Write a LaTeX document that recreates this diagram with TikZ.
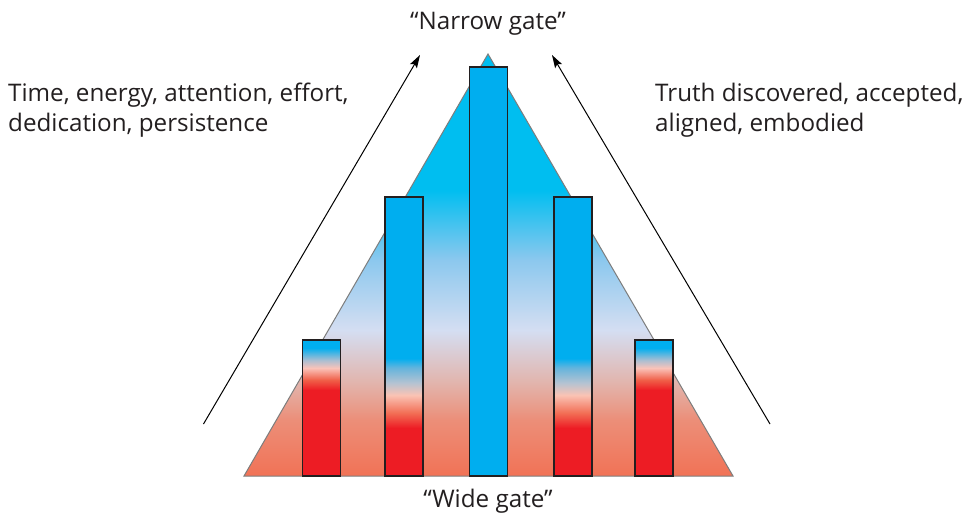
\documentclass[tikz,border=0pt]{standalone}
\usepackage{fontspec}
\setmainfont{Open Sans}
\usetikzlibrary{arrows.meta}
\definecolor{barblue}{RGB}{0,174,239}
\definecolor{barred}{RGB}{237,28,36}
\definecolor{outl}{RGB}{35,31,32}
\definecolor{triedge}{RGB}{125,125,125}
\definecolor{txt}{RGB}{35,31,32}
\pgfdeclareverticalshading{trishade}{100bp}{
  color(0bp)=(rgb,255:red,241;green,114;blue,86);
  color(25bp)=(rgb,255:red,241;green,114;blue,86);
  color(31.6bp)=(rgb,255:red,236;green,142;blue,120);
  color(36bp)=(rgb,255:red,226;green,180;blue,172);
  color(42.3bp)=(rgb,255:red,212;green,222;blue,242);
  color(50.6bp)=(rgb,255:red,140;green,200;blue,238);
  color(58.9bp)=(rgb,255:red,0;green,190;blue,240);
  color(75bp)=(rgb,255:red,0;green,190;blue,240);
  color(100bp)=(rgb,255:red,0;green,190;blue,240)}
\pgfdeclareverticalshading{shortbar}{100bp}{
  color(0bp)=(barred);
  color(25bp)=(barred);
  color(56.6bp)=(barred);
  color(60.3bp)=(rgb,255:red,240;green,95;blue,72);
  color(64.7bp)=(rgb,255:red,250;green,195;blue,185);
  color(67.6bp)=(rgb,255:red,170;green,190;blue,210);
  color(72.1bp)=(barblue);
  color(75bp)=(barblue);
  color(100bp)=(barblue)}
\pgfdeclareverticalshading{midbar}{100bp}{
  color(0bp)=(barred);
  color(25bp)=(barred);
  color(33.6bp)=(barred);
  color(36.3bp)=(rgb,255:red,242;green,110;blue,85);
  color(39.5bp)=(rgb,255:red,250;green,195;blue,180);
  color(41.7bp)=(rgb,255:red,180;green,195;blue,210);
  color(44.4bp)=(rgb,255:red,100;green,180;blue,220);
  color(46.1bp)=(barblue);
  color(75bp)=(barblue);
  color(100bp)=(barblue)}
\begin{document}
\begin{tikzpicture}[x=1pt,y=-1pt,
  lbl/.style={font=\fontsize{24.2}{29}\selectfont, text=txt, inner sep=0pt},
  barbox/.style={draw=outl, line width=1.3pt},
  arr/.style={draw=black, line width=1pt, -{Stealth[length=13pt,width=8pt,inset=2.5pt]}}]
\useasboundingbox (0,0) rectangle (964,519);
\fill[white] (0,0) rectangle (964,519);
% triangle
\coordinate (apex) at (488,54);
\coordinate (bl) at (244,476);
\coordinate (br) at (733,476);
\path[shading=trishade, draw=triedge, line width=1pt, line join=miter] (bl) -- (apex) -- (br) -- cycle;
% bars
\path[barbox, shading=shortbar] (302.5,340) rectangle (340.5,476);
\path[barbox, shading=midbar] (385,197) rectangle (423,476);
\path[barbox, fill=barblue] (469.5,67) rectangle (507.5,476);
\path[barbox, shading=midbar] (554,197) rectangle (592,476);
\path[barbox, shading=shortbar] (635,340) rectangle (673,476);
% arrows
\coordinate (la0) at (203.5,424);
\coordinate (la1) at (420,55);
\coordinate (ra0) at (770,424);
\coordinate (ra1) at (552,55);
\draw[arr] (la0) -- (la1);
\draw[arr] (ra0) -- (ra1);
% labels
\node[lbl, anchor=base] (narrow) at (488,30) {“Narrow gate”};
\node[lbl, anchor=base] (wide) at (488,507) {“Wide gate”};
\node[lbl, anchor=base west] (l1) at (8,101.5) {Time, energy, attention, effort,};
\node[lbl, anchor=base west] (l2) at (8,131.5) {dedication, persistence};
\node[lbl, anchor=base west] (r1) at (655,101.5) {Truth discovered, accepted,};
\node[lbl, anchor=base west] (r2) at (655,131.5) {aligned, embodied};
\end{tikzpicture}
\end{document}
